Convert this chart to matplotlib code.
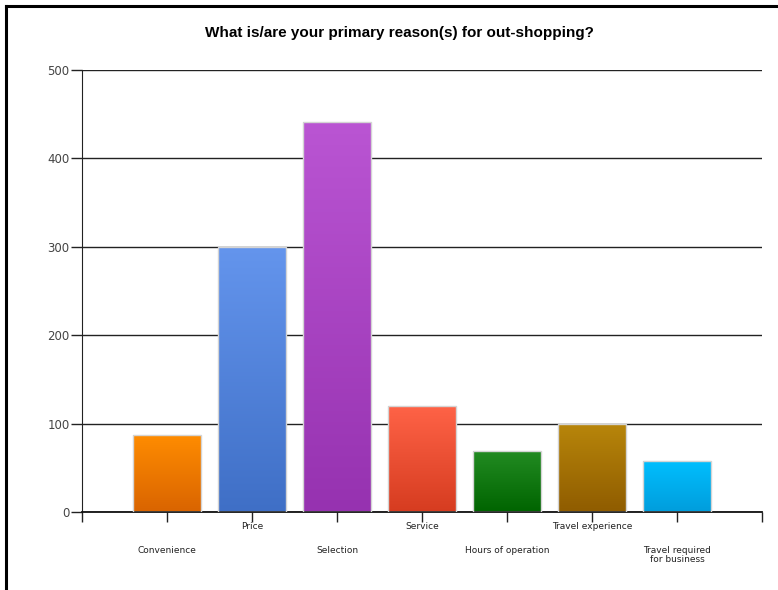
import numpy as np
import matplotlib
matplotlib.use("Agg")
import matplotlib.pyplot as plt
from matplotlib.colors import LinearSegmentedColormap
from matplotlib.lines import Line2D

# data
categories = ["Convenience", "Price", "Selection", "Service",
              "Hours of operation", "Travel experience", "Travel required\nfor business"]
values = [87, 300, 441, 120, 69, 100, 58]
top_colors = ["#ff8c00", "#6495ed", "#ba55d3", "#ff6347", "#228b22", "#b8860b", "#00bfff"]
bottom_colors = ["#d96400", "#3f6fc6", "#9632b0", "#d63c20", "#006400", "#8f5c00", "#009ddc"]
yticks = [0, 100, 200, 300, 400, 500]

fig = plt.figure(figsize=(7.78, 5.90), dpi=100)
ax = fig.add_axes([82/778, 1 - 512/590, 680/778, 442/590])

x = np.arange(1, len(values) + 1)
bars = ax.bar(x, values, width=0.79, color="none", edgecolor="#d4d4d4", linewidth=1, zorder=3)

# vertical gradient fill in each bar, clipped to the bar shape
grad = np.linspace(0, 1, 256).reshape(-1, 1)
for b, c_top, c_bot in zip(bars, top_colors, bottom_colors):
    cmap = LinearSegmentedColormap.from_list("g", [c_bot, c_top])
    x0, w, h = b.get_x(), b.get_width(), b.get_height()
    im = ax.imshow(grad, cmap=cmap, origin="lower", aspect="auto",
                   extent=(x0, x0 + w, 0, h), zorder=2)
    im.set_clip_path(b)

ax.set_xlim(0, 8)
ax.set_ylim(0, 500)
ax.set_yticks(yticks)
ax.set_yticklabels([str(v) for v in yticks], fontsize=8.5, color="#444444",
                   family="DejaVu Sans")
ax.set_xticks(np.arange(0, 9))
ax.set_xticklabels([])
ax.tick_params(axis="y", length=8, width=1, color="#222222", pad=1)
ax.tick_params(axis="x", length=7, width=1, color="#222222")

ax.yaxis.grid(True, color="#222222", linewidth=1)
ax.set_axisbelow(True)
for s in ["top", "right"]:
    ax.spines[s].set_visible(False)
ax.spines["left"].set_color("#222222")
ax.spines["bottom"].set_color("#111111")
ax.spines["bottom"].set_linewidth(1.3)

# staggered category labels
for i, (xi, lab) in enumerate(zip(x, categories)):
    dy = -7.5 if i % 2 == 1 else -24.5
    ax.annotate(lab, xy=(xi, 0), xycoords=("data", "axes fraction"),
                xytext=(0, dy), textcoords="offset points",
                ha="center", va="top", fontsize=6.5, color="#222222",
                family="DejaVu Sans", linespacing=1.0)

fig.text(399/778, 1 - 33/590, "What is/are your primary reason(s) for out-shopping?",
         ha="center", va="center", fontsize=11, fontweight="bold",
         family="Liberation Sans")

# outer frame (top and left edges only)
fig.add_artist(Line2D([6.5/778, 6.5/778], [0, 1 - 5.5/590], color="black", linewidth=2.2))
fig.add_artist(Line2D([6.5/778, 1], [1 - 5.5/590, 1 - 5.5/590], color="black", linewidth=2.2))

fig.savefig("out.png", dpi=100)
